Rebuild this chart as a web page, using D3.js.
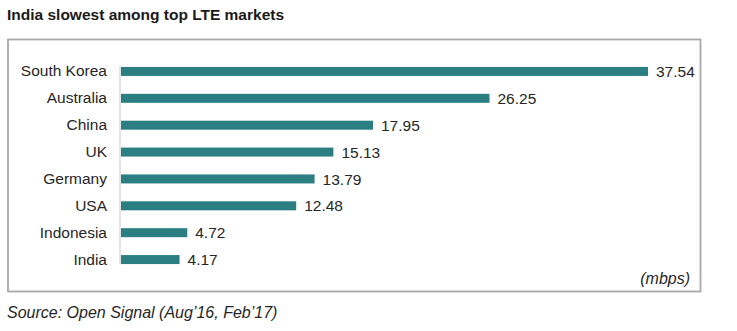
<!DOCTYPE html>
<html>
<head>
<meta charset="utf-8">
<script src="https://cdn.jsdelivr.net/npm/d3@7"></script>
<style>
  html, body { margin: 0; padding: 0; background: #fff; }
  svg { display: block; font-family: "Liberation Sans", Arial, sans-serif; }
</style>
</head>
<body>
<svg id="chart" width="737" height="331"></svg>
<script>
// LTE download speeds by country (mbps)
const countries = ["South Korea", "Australia", "China", "UK", "Germany", "USA", "Indonesia", "India"];
const speeds = [37.54, 26.25, 17.95, 15.13, 13.79, 12.48, 4.72, 4.17];
const valueLabels = ["37.54", "26.25", "17.95", "15.13", "13.79", "12.48", "4.72", "4.17"];

const svg = d3.select("#chart");
const barColor = "#2b7e82";
const textColor = "#262626";
const fontSize = 15.5;

// Title
svg.append("text")
  .attr("x", 7).attr("y", 20)
  .attr("font-size", 15.5).attr("font-weight", "bold")
  .attr("fill", "#1a1a1a")
  .text("India slowest among top LTE markets");

// Framed panel
svg.append("rect")
  .attr("x", 8).attr("y", 39.5)
  .attr("width", 692.5).attr("height", 252)
  .attr("fill", "#fff")
  .attr("stroke", "#a8a8a8").attr("stroke-width", 1.8);

const x = d3.scaleLinear().domain([0, 37.54]).range([121, 648]);
const y = d3.scaleBand().domain(countries).range([58, 273]).paddingInner(0.66).paddingOuter(0.33);

// Bars
svg.append("g").selectAll("rect")
  .data(countries)
  .join("rect")
  .attr("x", x(0))
  .attr("y", d => y(d) + y.bandwidth() / 2 - 4.5)
  .attr("width", (d, i) => x(speeds[i]) - x(0))
  .attr("height", 9)
  .attr("fill", barColor);

// Category axis
const yAxis = svg.append("g")
  .attr("transform", `translate(${x(0) - 1},0)`)
  .call(d3.axisLeft(y).tickSize(0).tickPadding(13));
yAxis.attr("font-size", null).attr("font-family", null);
yAxis.select(".domain").attr("stroke", "#c8c8c8").attr("stroke-width", 1)
  .attr("d", "M0,66V264");
yAxis.selectAll("text")
  .attr("font-size", fontSize)
  .attr("fill", textColor);

// Value labels
svg.append("g").selectAll("text")
  .data(countries)
  .join("text")
  .attr("x", (d, i) => x(speeds[i]) + 8)
  .attr("y", d => y(d) + y.bandwidth() / 2)
  .attr("dy", "0.36em")
  .attr("font-size", fontSize)
  .attr("fill", textColor)
  .text((d, i) => valueLabels[i]);

// Unit note
svg.append("text")
  .attr("x", 690).attr("y", 284)
  .attr("text-anchor", "end")
  .attr("font-size", 16).attr("font-style", "italic")
  .attr("fill", textColor)
  .text("(mbps)");

// Source
svg.append("text")
  .attr("x", 7).attr("y", 318)
  .attr("font-size", 16).attr("font-style", "italic")
  .attr("fill", textColor)
  .text("Source: Open Signal (Aug\u201916, Feb\u201917)");
</script>
</body>
</html>
